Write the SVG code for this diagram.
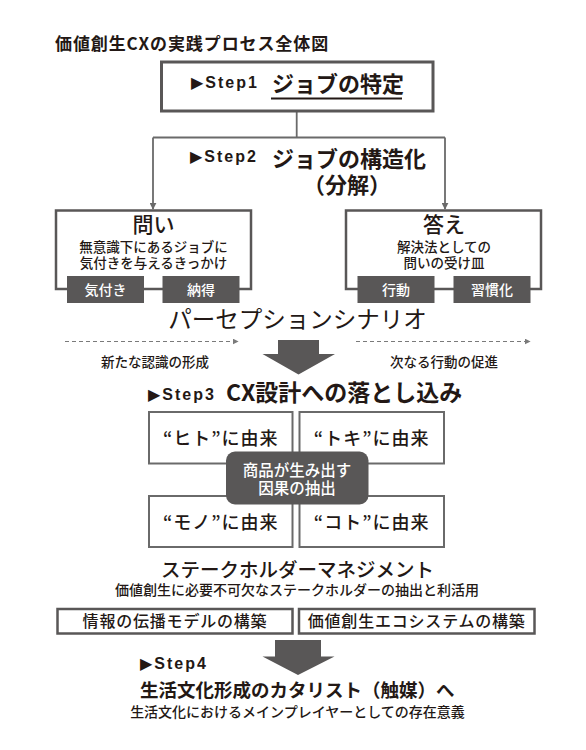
<svg xmlns="http://www.w3.org/2000/svg" width="586" height="750" viewBox="0 0 586 750">
<defs>
<style>
text{font-family:"Noto Sans CJK JP","Noto Sans",sans-serif;fill:#231815}
.jp{font-weight:500}
.r{font-weight:400}
.b{font-weight:700}
.step{font-family:"Liberation Sans","DejaVu Sans","Noto Sans CJK JP",sans-serif;font-weight:700;font-size:16px;letter-spacing:2px}
.w{fill:#ffffff}
.m{text-anchor:middle}
.box{fill:#ffffff;stroke:#595757;stroke-width:2.5}
.gbox{fill:#ffffff;stroke:#6a6a6a;stroke-width:2}
.tag{fill:#595757}
.conn{fill:none;stroke:#6a6a6a;stroke-width:1.8}
.dash{fill:none;stroke:#7a7a7a;stroke-width:1.2;stroke-dasharray:4 3}
.big{fill:#595757}
</style>
<marker id="ah" viewBox="0 0 10 10" refX="9" refY="5" markerWidth="7" markerHeight="7" markerUnits="userSpaceOnUse" orient="auto">
<path d="M0,0 L10,5 L0,10 z" fill="#6a6a6a"/>
</marker>
<marker id="ahd" viewBox="0 0 10 10" refX="9" refY="5" markerWidth="6" markerHeight="6" markerUnits="userSpaceOnUse" orient="auto">
<path d="M0,0 L10,5 L0,10 z" fill="#7a7a7a"/>
</marker>
</defs>

<text id="title" class="b" x="55" y="50" font-size="17" letter-spacing="0.9">価値創生CXの実践プロセス全体図</text>

<g id="connectors">
<path class="conn" d="M296.7 111 V137.5"/>
<path class="conn" d="M153 137.5 H445"/>
<path class="conn" d="M153 137.5 V209" marker-end="url(#ah)"/>
<path class="conn" d="M445 137.5 V209" marker-end="url(#ah)"/>
<path class="dash" d="M65 341.5 H238" marker-end="url(#ahd)"/>
<path class="dash" d="M356 341.5 H530" marker-end="url(#ahd)"/>
<polygon class="big" points="278,340 319,340 319,354 335,354 298.5,374.5 262.5,354 278,354"/>
<polygon class="big" points="275,640 321,640 321,656.5 334.5,656.5 298,675 262.5,656.5 275,656.5"/>
</g>

<g id="step1">
<rect x="161.5" y="62" width="271.5" height="49" fill="#ffffff" stroke="#595757" stroke-width="3"/>
<text class="step" x="191" y="88">▶Step1</text>
<text class="b" x="272" y="92" font-size="22">ジョブの特定</text>
<line x1="271" y1="98.5" x2="402" y2="98.5" stroke="#231815" stroke-width="2"/>
</g>

<g id="step2">
<text class="step" x="190" y="162">▶Step2</text>
<text class="b" x="272" y="167" font-size="22">ジョブの構造化</text>
<text class="b m" x="347" y="193" font-size="22">（分解）</text>
</g>

<g id="toi">
<rect class="box" x="56" y="210.5" width="195" height="78.5"/>
<text class="jp m" x="153.5" y="232" font-size="21">問い</text>
<text class="jp m" x="153.5" y="252" font-size="13.5">無意識下にあるジョブに</text>
<text class="jp m" x="153.5" y="268" font-size="13.5">気付きを与えるきっかけ</text>
<rect class="tag" x="67" y="276" width="77" height="27"/>
<text class="jp m w" x="105.5" y="295" font-size="14">気付き</text>
<rect class="tag" x="162.5" y="276" width="77" height="27"/>
<text class="jp m w" x="201" y="295" font-size="14">納得</text>
</g>

<g id="kotae">
<rect class="box" x="346" y="210.5" width="195" height="78.5"/>
<text class="jp m" x="444" y="232" font-size="21">答え</text>
<text class="jp m" x="444" y="252" font-size="13.5">解決法としての</text>
<text class="jp m" x="444" y="268" font-size="13.5">問いの受け皿</text>
<rect class="tag" x="357.5" y="276" width="77" height="27"/>
<text class="jp m w" x="396" y="295" font-size="14">行動</text>
<rect class="tag" x="453.5" y="276" width="77" height="27"/>
<text class="jp m w" x="492" y="295" font-size="14">習慣化</text>
</g>

<g id="perception">
<text class="r m" x="297.5" y="328" font-size="23.5">パーセプションシナリオ</text>
<text class="jp m" x="155" y="367" font-size="13.5">新たな認識の形成</text>
<text class="jp m" x="444" y="367" font-size="13.5">次なる行動の促進</text>
</g>

<g id="step3">
<text class="step" x="148" y="400">▶Step3</text>
<text class="b" x="226" y="401" font-size="23">CX設計への落とし込み</text>
</g>

<g id="hito">
<rect class="gbox" x="149" y="412" width="143.5" height="51.5"/>
<text class="jp m" x="220.8" y="445" font-size="18" letter-spacing="1">“ヒト”に由来</text>
</g>
<g id="toki">
<rect class="gbox" x="299.5" y="412" width="144.5" height="51.5"/>
<text class="jp m" x="371.7" y="445" font-size="18" letter-spacing="1">“トキ”に由来</text>
</g>
<g id="mono">
<rect class="gbox" x="149" y="496" width="143.5" height="51"/>
<text class="jp m" x="220.8" y="529" font-size="18" letter-spacing="1">“モノ”に由来</text>
</g>
<g id="koto">
<rect class="gbox" x="299.5" y="496" width="144.5" height="51"/>
<text class="jp m" x="371.7" y="529" font-size="18" letter-spacing="1">“コト”に由来</text>
</g>
<g id="inga">
<rect class="tag" x="226" y="451.5" width="142.5" height="53" rx="9"/>
<text class="jp m w" x="297" y="476" font-size="15.5">商品が生み出す</text>
<text class="jp m w" x="297" y="494" font-size="15.5">因果の抽出</text>
</g>

<g id="stakeholder">
<text class="jp m" x="297.5" y="577" font-size="19.5">ステークホルダーマネジメント</text>
<text class="jp m" x="297" y="595" font-size="14">価値創生に必要不可欠なステークホルダーの抽出と利活用</text>
</g>
<g id="denpa">
<rect class="box" x="57.5" y="609" width="235" height="24.5"/>
<text class="jp m" x="175" y="627" font-size="16" letter-spacing="0.8">情報の伝播モデルの構築</text>
</g>
<g id="eco">
<rect class="box" x="299" y="609" width="235.5" height="24.5"/>
<text class="jp m" x="416.7" y="627" font-size="16" letter-spacing="0.8">価値創生エコシステムの構築</text>
</g>

<g id="step4">
<text class="step" x="140" y="669">▶Step4</text>
<text class="b" x="140" y="697" font-size="18.5">生活文化形成のカタリスト（触媒）へ</text>
<text class="jp m" x="297.5" y="717" font-size="14">生活文化におけるメインプレイヤーとしての存在意義</text>
</g>
</svg>
